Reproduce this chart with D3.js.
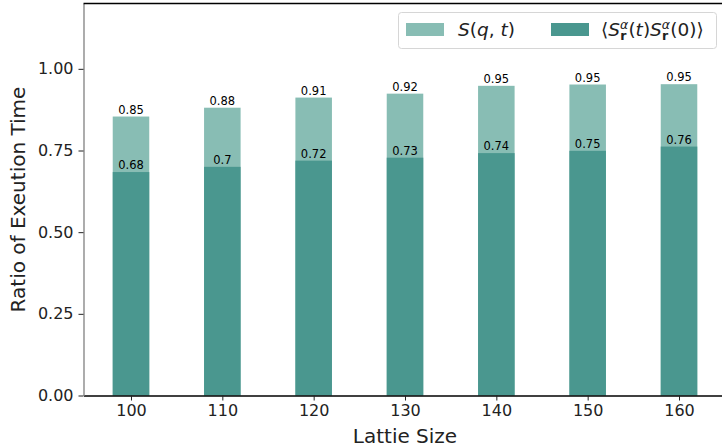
<!DOCTYPE html>
<html>
<head>
<meta charset="utf-8">
<script src="https://cdn.jsdelivr.net/npm/d3@7"></script>
<style>
  body { margin: 0; background: #fff; }
  svg { font-family: "DejaVu Sans", sans-serif; }
</style>
</head>
<body>
<svg id="chart" width="722" height="446"></svg>
<script>
// data
var sizes = [100, 110, 120, 130, 140, 150, 160];
var sqtValues = [0.854, 0.881, 0.912, 0.924, 0.948, 0.952, 0.953];
var corrValues = [0.684, 0.700, 0.719, 0.728, 0.742, 0.749, 0.762];
var yTicks = [0, 0.25, 0.5, 0.75, 1.0];

var lightColor = "#88bdb4",
    darkColor = "#4a978f";

function drawChart() {
  var svg = d3.select("#chart");
  var mLeft = 83.5, mRight = 726.5, mTop = 3.5, mBottom = 395.5;

  var x = d3.scaleLinear().domain([94.8, 165.2]).range([mLeft, mRight]);
  var y = d3.scaleLinear().domain([0, 1.2]).range([mBottom, mTop]);
  var barW = x(104) - x(100);

  function fmt(v) { return String(Math.round(v * 100) / 100); }

  var g = svg.append("g");

  // light bars (S(q,t)) drawn first, dark bars over them
  g.selectAll("rect.sqt")
    .data(sizes)
    .enter().append("rect")
      .attr("class", "sqt")
      .attr("x", function(d) { return x(d) - barW / 2; })
      .attr("width", barW)
      .attr("y", function(d, i) { return y(sqtValues[i]); })
      .attr("height", function(d, i) { return y(0) - y(sqtValues[i]); })
      .attr("fill", lightColor);

  g.selectAll("rect.corr")
    .data(sizes)
    .enter().append("rect")
      .attr("class", "corr")
      .attr("x", function(d) { return x(d) - barW / 2; })
      .attr("width", barW)
      .attr("y", function(d, i) { return y(corrValues[i]); })
      .attr("height", function(d, i) { return y(0) - y(corrValues[i]); })
      .attr("fill", darkColor);

  // bar labels
  g.selectAll("text.sqtlab")
    .data(sizes)
    .enter().append("text")
      .attr("class", "sqtlab")
      .attr("x", function(d) { return x(d); })
      .attr("y", function(d, i) { return y(sqtValues[i]) - 3; })
      .attr("text-anchor", "middle")
      .style("font-size", "11.5px")
      .text(function(d, i) { return fmt(sqtValues[i]); });

  g.selectAll("text.corrlab")
    .data(sizes)
    .enter().append("text")
      .attr("class", "corrlab")
      .attr("x", function(d) { return x(d); })
      .attr("y", function(d, i) { return y(corrValues[i]) - 3; })
      .attr("text-anchor", "middle")
      .style("font-size", "11.5px")
      .text(function(d, i) { return fmt(corrValues[i]); });

  // axes
  var xAxis = svg.append("g")
      .attr("transform", "translate(0," + mBottom + ")")
      .call(d3.axisBottom(x).tickValues(sizes).tickSize(5).tickPadding(4).tickSizeOuter(0));
  var yAxis = svg.append("g")
      .attr("transform", "translate(" + mLeft + ",0)")
      .call(d3.axisLeft(y).tickValues(yTicks).tickFormat(d3.format(".2f")).tickSize(5).tickPadding(5).tickSizeOuter(0));

  [xAxis, yAxis].forEach(function(a) {
    a.selectAll("text").style("font-size", "16px").style("font-family", "DejaVu Sans").attr("fill", "#222");
    a.selectAll(".tick line").attr("stroke", "#222").attr("stroke-width", 1);
    a.select(".domain").attr("stroke-width", 1.3);
  });
  xAxis.select(".domain").attr("stroke", "#000");
  yAxis.select(".domain").attr("stroke", "#808080");

  // top spine
  svg.append("line")
    .attr("x1", mLeft).attr("x2", mRight)
    .attr("y1", mTop).attr("y2", mTop)
    .attr("stroke", "#000").attr("stroke-width", 1.3);

  // axis titles
  svg.append("text")
    .attr("x", (mLeft + mRight) / 2)
    .attr("y", 443)
    .attr("text-anchor", "middle")
    .style("font-size", "20px")
    .attr("fill", "#222")
    .text("Lattie Size");

  svg.append("text")
    .attr("transform", "translate(25," + ((mTop + mBottom) / 2) + ") rotate(-90)")
    .attr("text-anchor", "middle")
    .style("font-size", "20px")
    .attr("fill", "#222")
    .text("Ratio of Exeution Time");

  // legend
  var leg = svg.append("g");
  leg.append("rect")
    .attr("x", 398.5).attr("y", 12.5)
    .attr("width", 318).attr("height", 36)
    .attr("rx", 3)
    .attr("fill", "#fff").attr("fill-opacity", 0.8)
    .attr("stroke", "#d6d6d6");

  leg.append("rect").attr("x", 406).attr("y", 23).attr("width", 38).attr("height", 13).attr("fill", lightColor);
  leg.append("rect").attr("x", 551).attr("y", 23).attr("width", 38).attr("height", 13).attr("fill", darkColor);

  var t1 = leg.append("text").attr("x", 458).attr("y", 36).style("font-size", "18.5px").attr("fill", "#222");
  t1.append("tspan").style("font-style", "italic").text("S");
  t1.append("tspan").text("(");
  t1.append("tspan").style("font-style", "italic").text("q");
  t1.append("tspan").text(", ");
  t1.append("tspan").style("font-style", "italic").text("t");
  t1.append("tspan").text(")");

  var t2 = leg.append("text").attr("x", 601).attr("y", 36).style("font-size", "18.5px").attr("fill", "#222");
  function corrPart(sel) {
    sel.append("tspan").style("font-style", "italic").text("S");
    sel.append("tspan").attr("dy", -7).style("font-size", "12.5px").style("font-style", "italic").text("α");
    sel.append("tspan").attr("dx", -8).attr("dy", 11).style("font-size", "12.5px").style("font-weight", "bold").text("r");
    sel.append("tspan").attr("dx", 2).attr("dy", -4).text("(");
  }
  t2.append("tspan").text("⟨");
  corrPart(t2);
  t2.append("tspan").style("font-style", "italic").text("t");
  t2.append("tspan").text(")");
  corrPart(t2);
  t2.append("tspan").text("0)⟩");
}

drawChart();
</script>
</body>
</html>
